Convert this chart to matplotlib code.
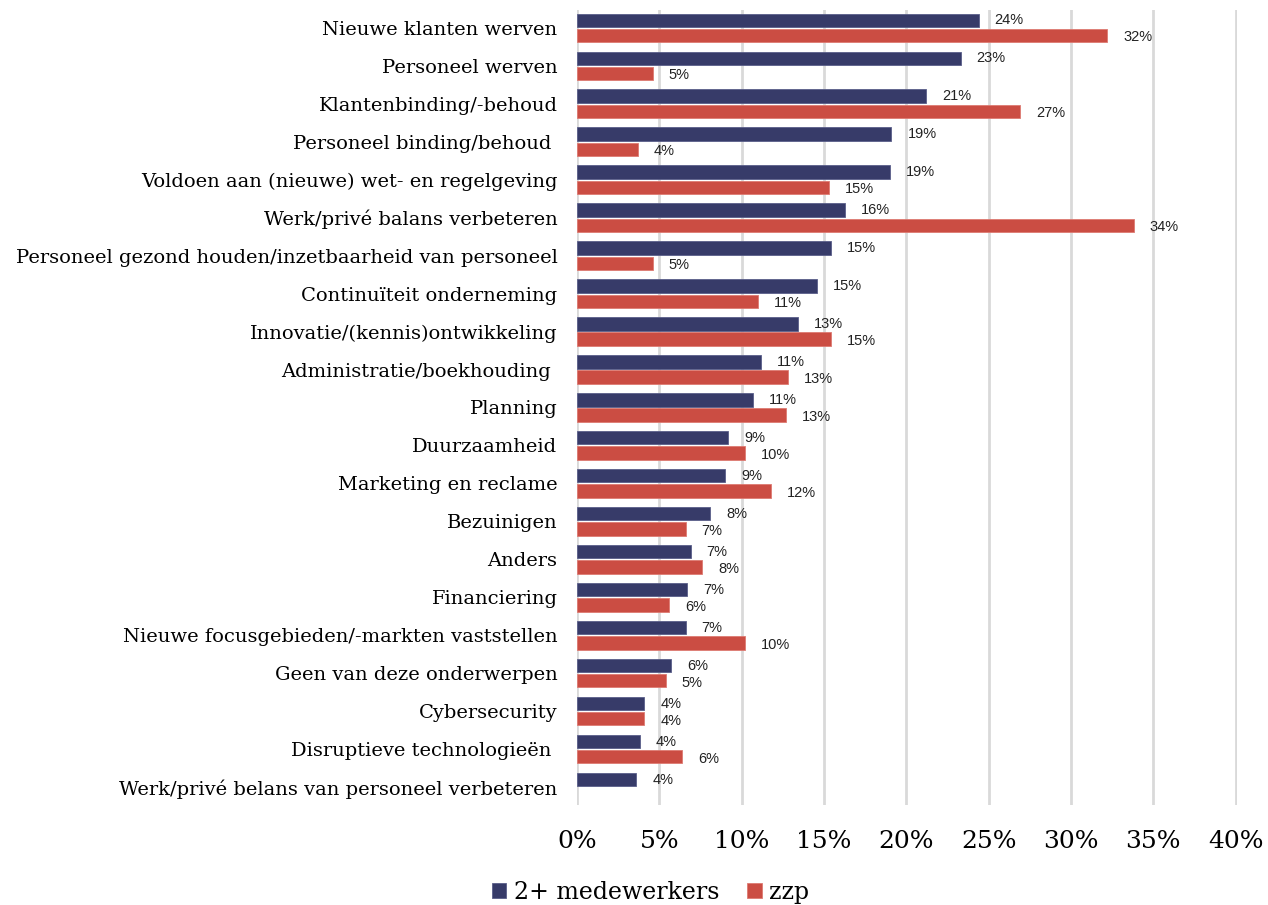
import numpy as np
from matplotlib import pyplot as plt

categories = [
    "Nieuwe klanten werven",
    "Personeel werven",
    "Klantenbinding/-behoud",
    "Personeel binding/behoud ",
    "Voldoen aan (nieuwe) wet- en regelgeving",
    "Werk/privé balans verbeteren",
    "Personeel gezond houden/inzetbaarheid van personeel",
    "Continuïteit onderneming",
    "Innovatie/(kennis)ontwikkeling",
    "Administratie/boekhouding ",
    "Planning",
    "Duurzaamheid",
    "Marketing en reclame",
    "Bezuinigen",
    "Anders",
    "Financiering",
    "Nieuwe focusgebieden/-markten vaststellen",
    "Geen van deze onderwerpen",
    "Cybersecurity",
    "Disruptieve technologieën ",
    "Werk/privé belans van personeel verbeteren",
]
medewerkers = [24.4, 23.3, 21.2, 19.1, 19.0, 16.3, 15.4, 14.6, 13.4, 11.2, 10.7,
               9.2, 9.0, 8.1, 6.9, 6.7, 6.6, 5.7, 4.1, 3.8, 3.6]
zzp = [32.2, 4.6, 26.9, 3.7, 15.3, 33.8, 4.6, 11.0, 15.4, 12.8, 12.7,
       10.2, 11.8, 6.6, 7.6, 5.6, 10.2, 5.4, 4.1, 6.4, np.nan]
series_names = ["2+ medewerkers", "zzp"]

blue = "#373b69"
red = "#cb4d43"

fig = plt.figure(figsize=(12.68, 9.05), dpi=100)
ax = fig.add_axes([0.455, 0.1105, 0.5205, 0.8785])

y = np.arange(len(categories))
h = 0.35
off = 0.2

b1 = ax.barh(y - off, medewerkers, height=h, color=blue, edgecolor="#5a5e8a", linewidth=0.6,
             label=series_names[0], zorder=3)
b2 = ax.barh(y + off, zzp, height=h, color=red, edgecolor="#dd7a72", linewidth=0.6,
             label=series_names[1], zorder=3)

lab_font = dict(fontsize=10.5, family="Liberation Sans", color="#222222")
for yy, v in zip(y - off, medewerkers):
    ax.annotate(f"{round(v)}%", (v, yy), xytext=(11.5, 0), textcoords="offset points",
                ha="left", va="center", **lab_font)
for yy, v in zip(y + off, zzp):
    if np.isnan(v):
        continue
    ax.annotate(f"{round(v)}%", (v, yy + 0.05), xytext=(11.5, 0), textcoords="offset points",
                ha="left", va="center", **lab_font)

ax.set_xlim(0, 40.08)
ax.set_ylim(20.47, -0.47)
ax.set_xticks(np.arange(0, 41, 5))
ax.set_xticklabels([f"{t}%" for t in range(0, 41, 5)], family="DejaVu Serif", fontsize=18)
ax.set_yticks(y)
ax.set_yticklabels(categories, family="DejaVu Serif", fontsize=14)
ax.tick_params(axis="x", length=0, pad=18)
ax.tick_params(axis="y", length=0, pad=14)
ax.grid(axis="x", color="#d9d9d9", linewidth=2, zorder=0)
for s in ax.spines.values():
    s.set_visible(False)

fig.legend(handles=[b1, b2], loc="lower center", bbox_to_anchor=(0.513, -0.022), ncol=2,
           frameon=False, prop={"family": "DejaVu Serif", "size": 17},
           handlelength=0.6, handleheight=0.6, handletextpad=0.3, columnspacing=1.2)

fig.savefig("out.png", dpi=100)
